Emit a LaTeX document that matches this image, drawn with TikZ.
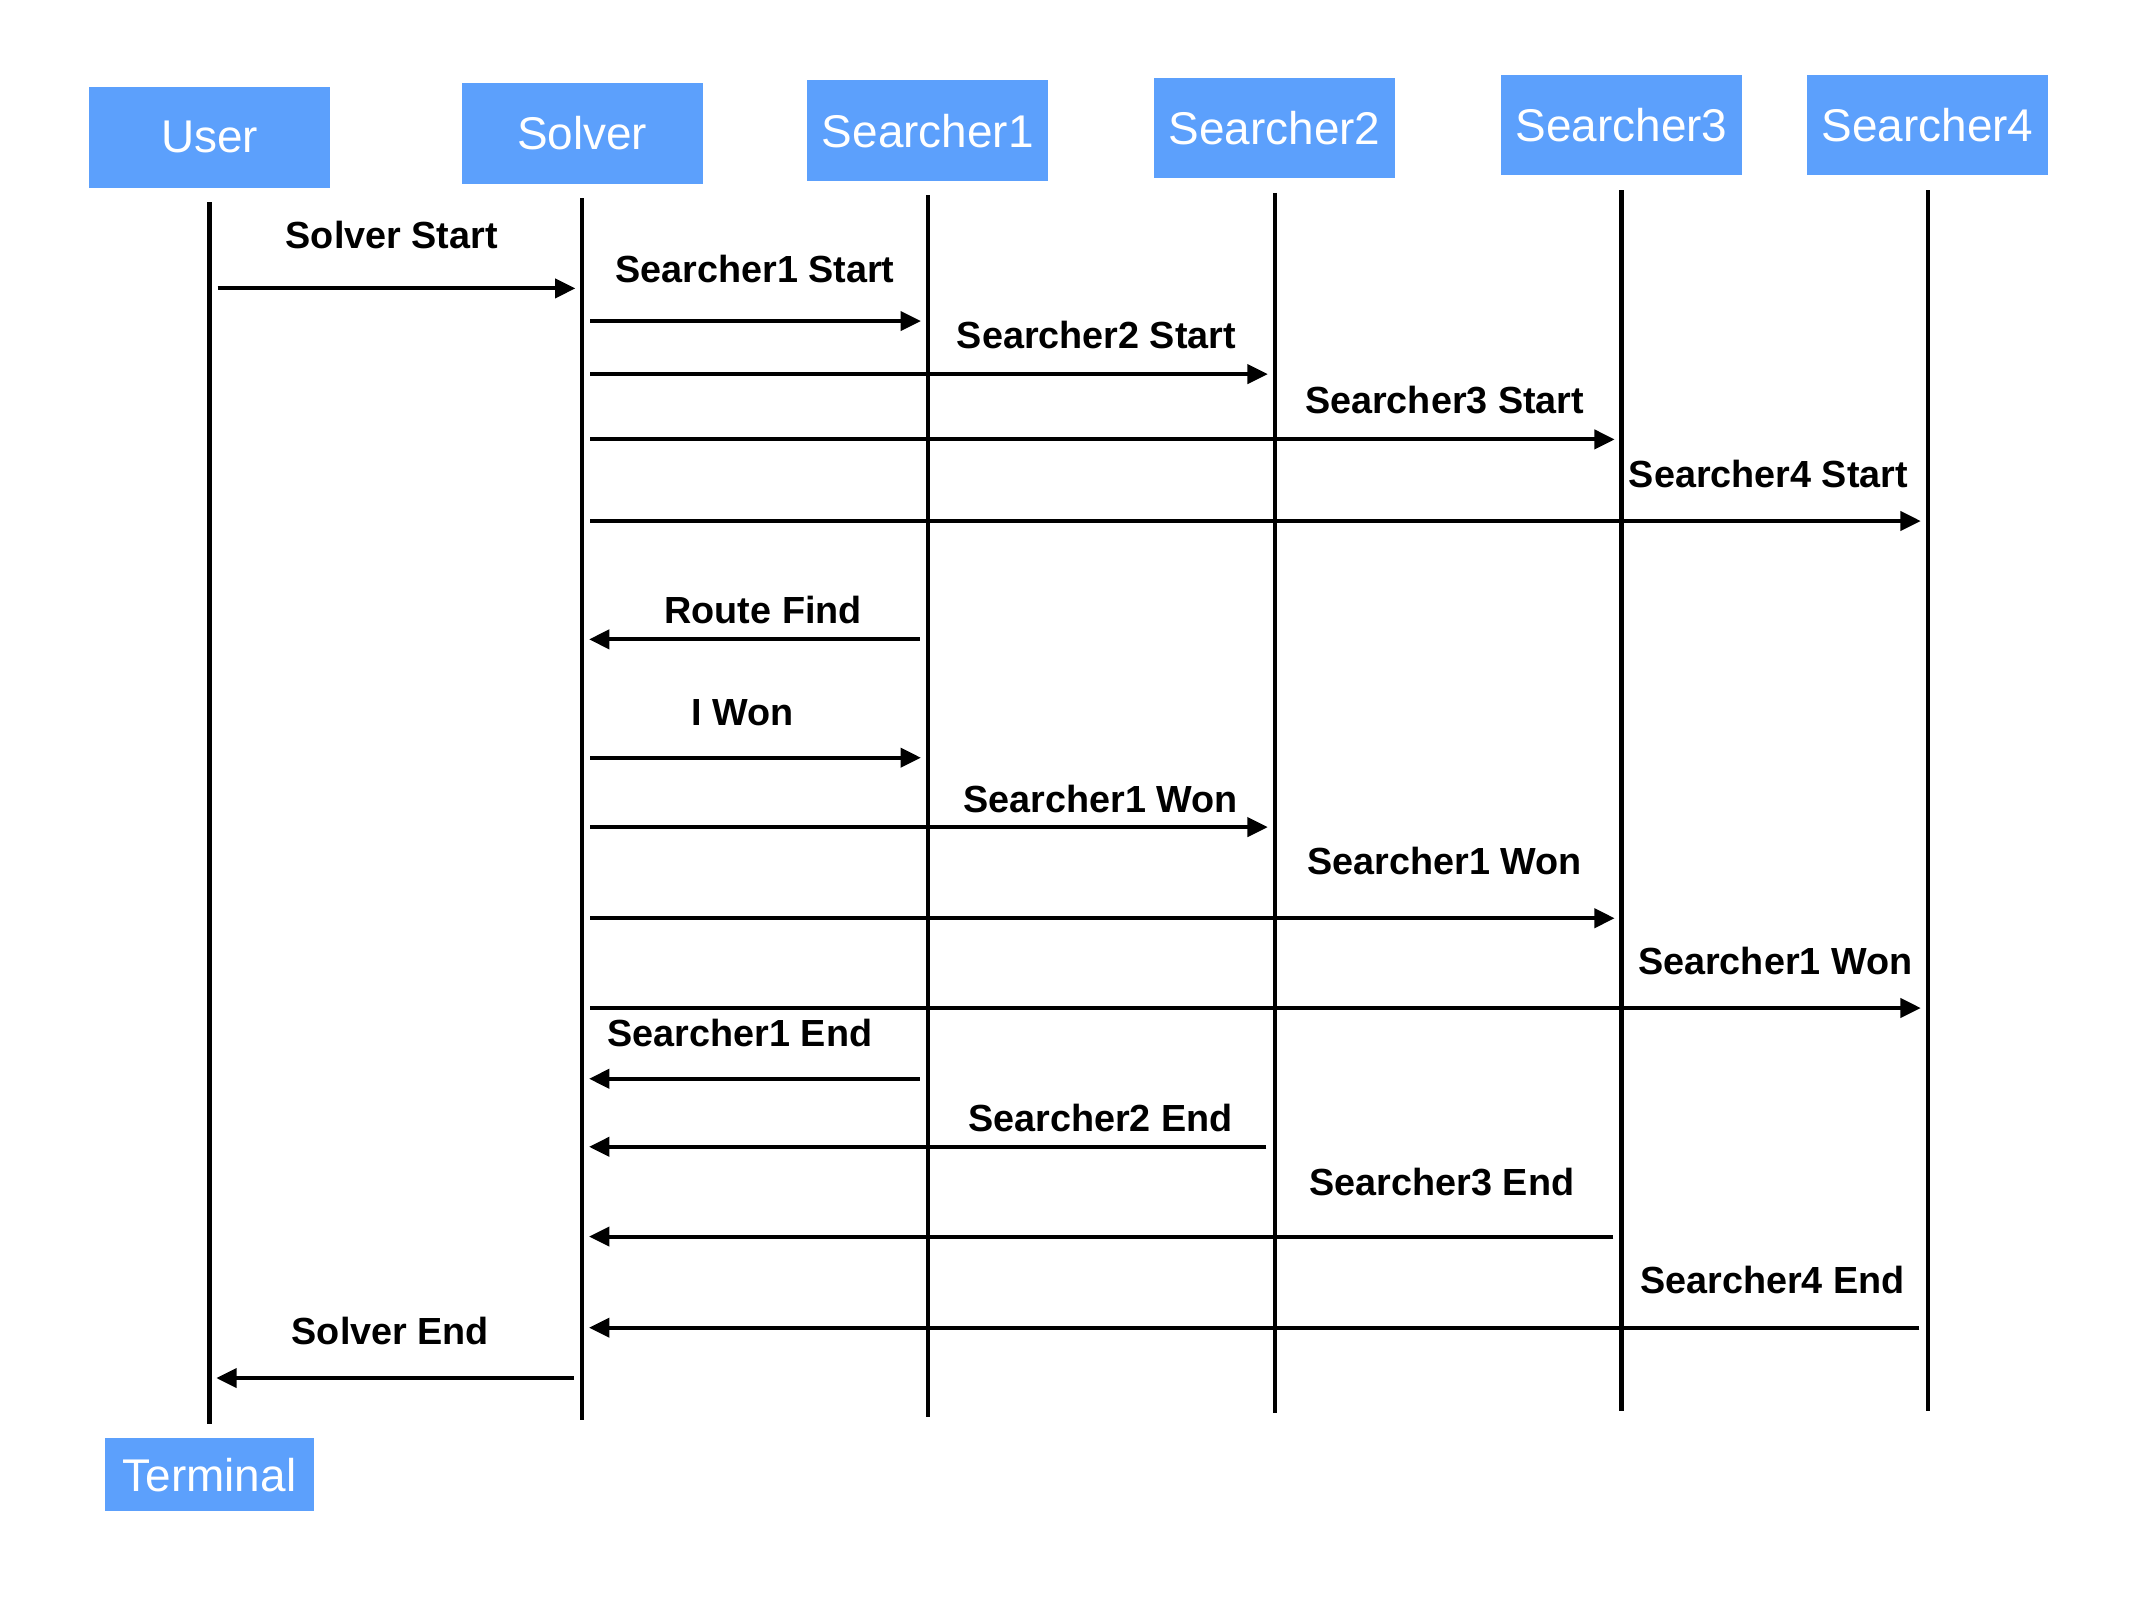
\documentclass[tikz,border=0pt]{standalone}
\usepackage{fontspec}
\setmainfont{Liberation Sans}
\usetikzlibrary{arrows.meta}
\definecolor{boxblue}{RGB}{92,160,252}

\begin{document}
\begin{tikzpicture}[x=0.1mm,y=-0.1mm,
  actor/.style={fill=boxblue, text=white, inner sep=0pt, minimum width=17.7mm, minimum height=7.4mm, font=\fontsize{9.6}{11}\selectfont},
  life/.style={line width=0.3mm},
  msg/.style={line width=0.3mm, shorten <=0.6mm, shorten >=0.5mm, -{Triangle[length=1.5mm,width=1.4mm]}},
  lbl/.style={font=\bfseries\fontsize{7.9}{9}\selectfont, anchor=base, inner sep=0pt}]

\useasboundingbox (0,0) rectangle (1568,1176);

% Actors and their lifelines
\foreach \x/\y/\b/\name/\txt in {154/101/1047/user/User, 428/98/1044/solver/Solver, 682/96/1042/sone/Searcher1, 937/94/1039/stwo/Searcher2, 1192/92/1037/sthree/Searcher3, 1417/92/1037/sfour/Searcher4} {
  \node[actor] (\name) at (\x,\y) {\txt};
  \draw[life] ([yshift=-1mm]\name.south) -- (\name.south |- 0,\b);
}

% End box
\node[actor, minimum width=15.3mm, minimum height=5.4mm] (terminal) at (154,1084) {Terminal};

% Messages: from/to/line y/label x/label base/text
\foreach \from/\to/\y/\lx/\ly/\txt [count=\i] in {
  user/solver/212/288/183/Solver Start,
  solver/sone/236/555/208/Searcher1 Start,
  solver/stwo/275/806/256/Searcher2 Start,
  solver/sthree/323/1062/304/Searcher3 Start,
  solver/sfour/383/1300/358/Searcher4 Start,
  sone/solver/470/561/458/Route Find,
  solver/sone/557/546/533/I Won,
  solver/stwo/608/809/597/Searcher1 Won,
  solver/sthree/675/1062/643/Searcher1 Won,
  solver/sfour/741/1305/716/Searcher1 Won,
  sone/solver/793/544/769/Searcher1 End,
  stwo/solver/843/809/832/Searcher2 End,
  sthree/solver/909/1060/879/Searcher3 End,
  sfour/solver/976/1303/951/Searcher4 End,
  solver/user/1013/287/988/Solver End} {
  \draw[msg] (\from.center |- 0,\y) -- (\to.center |- 0,\y);
  \node[lbl] (lbl\i) at (\lx,\ly) {\txt};
}

\end{tikzpicture}
\end{document}
